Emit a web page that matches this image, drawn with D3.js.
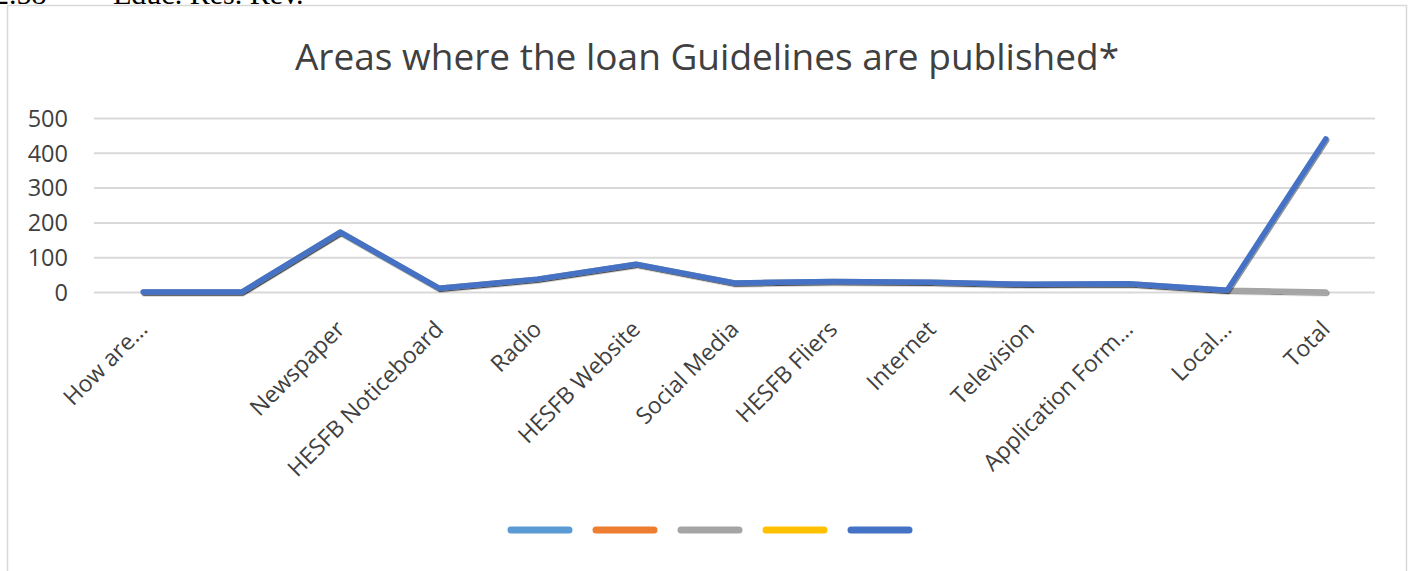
<!DOCTYPE html>
<html lang="en">
<head>
<meta charset="UTF-8">
<title>Areas where the loan Guidelines are published</title>
<script src="https://d3js.org/d3.v7.min.js"></script>
<style>
    body { margin: 0; background: #fff; }
    svg { display: block; }
    .tick text { font-family: "Open Sans", sans-serif; fill: #404040; }
</style>
</head>
<body>
<svg id="chart" width="1410" height="571"></svg>
<script>
// categories along the x axis (second one is blank in the source sheet)
const categories = ["How are…", "", "Newspaper", "HESFB Noticeboard", "Radio", "HESFB Website",
    "Social Media", "HESFB Fliers", "Internet", "Television", "Application Form…", "Local…", "Total"];

// series values
const series1 = [null, null, null, null, null, null, null, null, null, null, null, null, null];
const series2 = [null, null, null, null, null, null, null, null, null, null, null, null, null];
const series3 = [0, 0, 172, 11, 37, 80, 26, 30, 28, 22, 24, 5, 0];
const series4 = [null, null, null, null, null, null, null, null, null, null, null, null, null];
const series5 = [0, 0, 172, 11, 37, 80, 26, 30, 28, 22, 24, 5, 440];

const seriesColors = ["#5B9BD5", "#ED7D31", "#A5A5A5", "#FFC000", "#4472C4"];
const yTicks = [0, 100, 200, 300, 400, 500];

const svg = d3.select("#chart");

// page header, clipped by the crop
svg.append("text").attr("x", -6).attr("y", 4)
    .style("font-family", "'Liberation Serif', serif").style("font-size", "30px").attr("fill", "#000")
    .text("2.58");
svg.append("text").attr("x", 113).attr("y", 4)
    .style("font-family", "'Liberation Serif', serif").style("font-size", "30px").attr("fill", "#000")
    .text("Educ. Res. Rev.");

// chart frame
svg.append("path")
    .attr("d", "M7.5,580 V5.5 H1406.5 V580")
    .attr("fill", "none").attr("stroke", "#d9d9d9").attr("stroke-width", 1.5);

svg.append("text")
    .attr("x", 707).attr("y", 70)
    .attr("text-anchor", "middle")
    .style("font-family", "'Open Sans', sans-serif").style("font-size", "37px")
    .attr("fill", "#404040")
    .text("Areas where the loan Guidelines are published*");

const defs = svg.append("defs");
const f = defs.append("filter").attr("id", "shadow").attr("x", "-5%").attr("y", "-20%")
    .attr("width", "110%").attr("height", "140%");
f.append("feDropShadow").attr("dx", 1).attr("dy", 1.2).attr("stdDeviation", 0.6)
    .attr("flood-color", "#000").attr("flood-opacity", 0.45);

const x = d3.scaleBand().domain(d3.range(categories.length)).range([94, 1375]);
const y = d3.scaleLinear().domain([0, 500]).range([292, 118]);

// gridlines
svg.append("g")
    .call(d3.axisLeft(y).tickValues(yTicks).tickSize(-(1375 - 94)).tickFormat(""))
    .attr("transform", "translate(94,0)")
    .call(g => g.select(".domain").remove())
    .call(g => g.selectAll("line").attr("stroke", "#d9d9d9").attr("stroke-width", 2));

// y labels
svg.append("g")
    .attr("transform", "translate(94,0)")
    .call(d3.axisLeft(y).tickValues(yTicks).tickSize(0).tickPadding(26))
    .call(g => g.select(".domain").remove())
    .call(g => g.selectAll("text").style("font-size", "23.5px").attr("dy", "0.35em"));

// x labels
svg.append("g")
    .attr("transform", "translate(0,292)")
    .call(d3.axisBottom(x).tickSize(0).tickFormat(i => categories[i]))
    .call(g => g.select(".domain").remove())
    .call(g => g.selectAll("text")
        .style("font-size", "23px")
        .attr("text-anchor", "end")
        .attr("transform", "translate(0,33) rotate(-45)")
        .attr("dy", "0.35em").attr("y", 0));

const line = d3.line()
    .defined(d => d != null)
    .x((d, i) => x(i) + x.bandwidth() / 2)
    .y(d => y(d));

const allSeries = [series1, series2, series3, series4, series5];
allSeries.forEach((s, k) => {
    svg.append("path")
        .datum(s)
        .attr("fill", "none")
        .attr("stroke", seriesColors[k])
        .attr("stroke-width", 5.5)
        .attr("stroke-linejoin", "round")
        .attr("stroke-linecap", "round")
        .attr("filter", "url(#shadow)")
        .attr("d", line);
});

// legend
const legendX = d3.scalePoint().domain(d3.range(allSeries.length)).range([540, 880]);
svg.append("g").selectAll("line")
    .data(seriesColors)
    .join("line")
    .attr("x1", (d, i) => legendX(i) - 29)
    .attr("x2", (d, i) => legendX(i) + 29)
    .attr("y1", 530).attr("y2", 530)
    .attr("stroke", d => d)
    .attr("stroke-width", 7)
    .attr("stroke-linecap", "round");
</script>
</body>
</html>
